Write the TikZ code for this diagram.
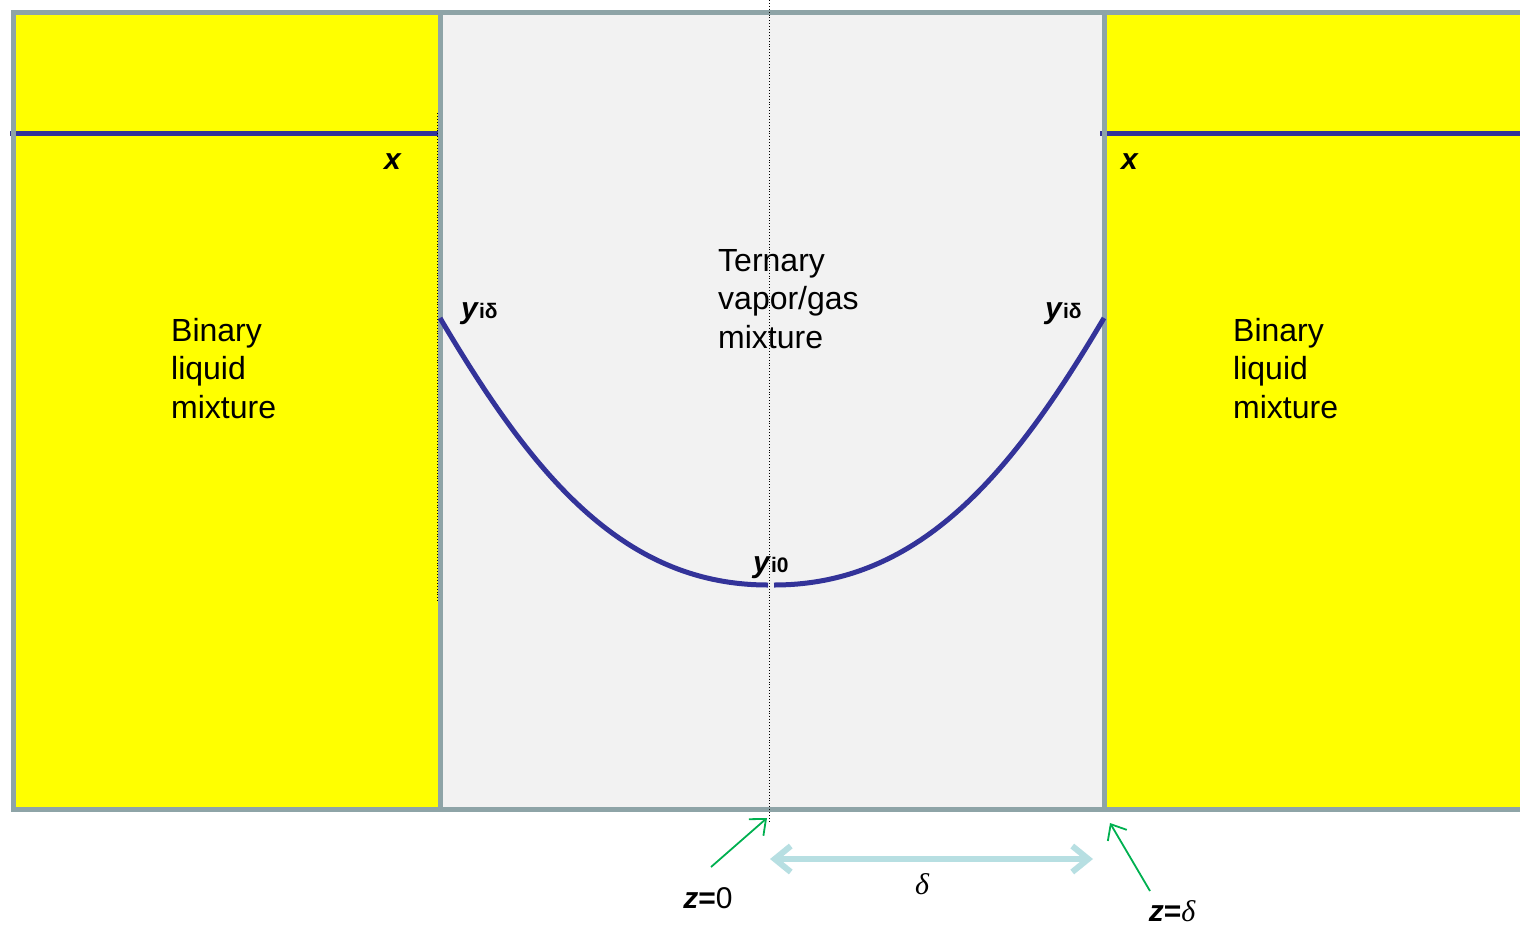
\documentclass[tikz,border=0pt]{standalone}
\usepackage{fontspec}
\setmainfont{Liberation Sans}
\newfontfamily\grserif{Liberation Serif}
\usetikzlibrary{arrows.meta}
\definecolor{bordergray}{HTML}{8EA4A7}
\definecolor{gasfill}{HTML}{F2F2F2}
\definecolor{liqfill}{HTML}{FFFF00}
\definecolor{curveblue}{HTML}{333399}
\definecolor{arrgreen}{HTML}{00B050}
\definecolor{deltablue}{HTML}{B7DFE2}
\tikzset{
  wall/.style={draw=bordergray, line width=5pt},
  profile/.style={draw=curveblue, line width=5pt},
  guide/.style={draw=black, line width=0.9pt, dotted},
  pointer/.style={draw=arrgreen, line width=1.8pt, -{Straight Barb[length=13pt,width=22pt,line width=1.8pt]}},
  bigtxt/.style={font=\fontsize{32}{38.5}\selectfont, align=left, inner sep=0pt, anchor=north west},
  lbl/.style={inner sep=0pt, font=\fontsize{30}{36}\selectfont}
}
\newcommand{\dlt}{{\grserif\itshape δ}}
\begin{document}
\begin{tikzpicture}[x=1pt,y=-1pt]
\useasboundingbox (0,0) rectangle (1520,926);
\clip (0,0) rectangle (1520,926);
% regions
\fill[liqfill] (13,12) rectangle (1530,809);
\fill[gasfill] (440,12) rectangle (1104,809);
% liquid level lines
\draw[profile] (10,133) -- (438,133);
\draw[profile] (1100,133) -- (1530,133);
% walls
\draw[wall] (13,12) rectangle (1540,809);
\draw[wall] (440,12) -- (440,809);
\draw[wall] (1104,12) -- (1104,809);
% dotted guides
\draw[guide] (437,113) -- (437,603);
\draw[guide] (769,0) -- (769,822);
% profile curve
\coordinate (Lend) at (440,318);
\coordinate (Lmid) at (768,585);
\coordinate (Rmid) at (774,585);
\coordinate (Rend) at (1104,318);
\draw[profile] (Lend) .. controls (530,470) and (620,585) .. (Lmid);
\draw[profile] (Rmid) .. controls (922,585) and (1014,470) .. (Rend);
% texts
\node[bigtxt] (leftliq) at (171,318) {Binary\\liquid\\mixture};
\node[bigtxt] (rightliq) at (1233,318) {Binary\\liquid\\mixture};
\node[bigtxt] (gas) at (718,249) {Ternary\\vapor/gas\\mixture};
\node[lbl] (xl) at (393,162) {\textbf{\textit{x}}};
\node[lbl] (xr) at (1130,162) {\textbf{\textit{x}}};
\node[lbl, anchor=base west] (yl) at (461,318) {\textbf{\textit{y}}{\fontsize{21}{24}\selectfont\textbf{iδ}}};
\node[lbl, anchor=base west] (yr) at (1045,318) {\textbf{\textit{y}}{\fontsize{21}{24}\selectfont\textbf{iδ}}};
\node[lbl, anchor=base west] (y0) at (753,572) {\textbf{\textit{y}}{\fontsize{21}{24}\selectfont\textbf{i0}}};
% bottom annotations
\node[lbl, anchor=base] (z0) at (708,908) {\textbf{\textit{z}=}0};
\node[lbl, anchor=base] (zd) at (1172,921) {\textbf{\textit{z}=}\dlt};
\node[lbl, anchor=base] (dl) at (922,894) {\dlt};
\coordinate (z0tail) at (711,867);
\coordinate (z0tip) at (767,818);
\coordinate (zdtail) at (1150,891);
\coordinate (zdtip) at (1110,823);
\draw[pointer] (z0tail) -- (z0tip);
\draw[pointer] (zdtail) -- (zdtip);
\coordinate (dA) at (770,859);
\coordinate (dB) at (1093,859);
\draw[draw=deltablue, line width=6pt, {Straight Barb[length=16pt,width=26pt,line width=6pt]}-{Straight Barb[length=16pt,width=26pt,line width=6pt]}] (dA) -- (dB);
\end{tikzpicture}
\end{document}
